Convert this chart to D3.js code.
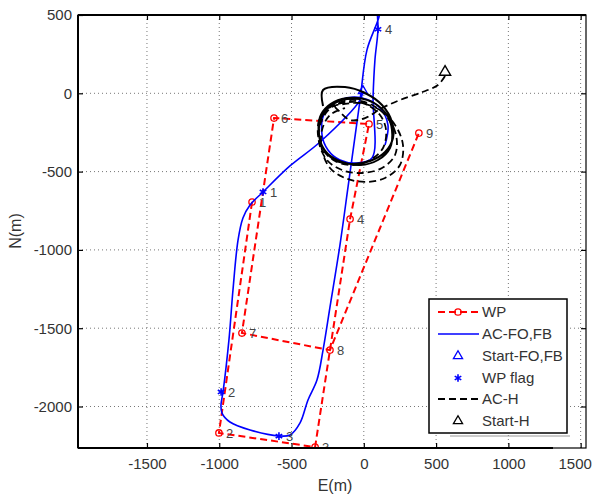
<!DOCTYPE html>
<html>
<head>
<meta charset="utf-8">
<script src="https://cdn.jsdelivr.net/npm/d3@7"></script>
<style>
  body { margin: 0; background: #fff; }
  text { font-family: "Liberation Sans", Arial, sans-serif; }
</style>
</head>
<body>
<div id="chart"></div>
<script>
// waypoints (red, dashed)
var wpE = [-773, -1002, -337, -95, 36, -621, -843, -234, 381];
var wpN = [-694, -2169, -2259, -803, -196, -158, -1531, -1640, -254];
var wpLabels = ["1", "2", "3", "4", "5", "6", "7", "8", "9"];

// waypoint switch flags (blue asterisks)
var flagE = [-697, -987, -587, 98];
var flagN = [-630, -1907, -2189, 409];
var flagLabels = ["1", "2", "3", "4"];

// start points
var startFO = [-6, 15];
var startH = [562, 136];

// aircraft path, FO/FB controller
var acE = [-6, -26, -303, -511, -697, -787, -836, -870, -905, -933, -974, -988, -981, -926, -787, -587, -510, -441, -386, -324, -282, -234, -165, -109, -26, 22, 105, 133, 119, 91, 98, 77, 64, 57, -47, -165, -248, -289, -268, -165, -12, 112, 167, 147];
var acN = [15, -43, -311, -464, -630, -713, -796, -937, -1256, -1576, -1908, -1991, -2042, -2099, -2150, -2188, -2182, -2105, -1958, -1831, -1640, -1365, -969, -598, -43, 277, 487, 628, 692, 647, 409, 213, -24, -413, -445, -426, -362, -266, -119, -43, -30, -94, -202, -330];

// aircraft path, H controller (dashed)
var hE = [562, 513, 389, 250, 126, 8, -95, -165, -199, -109, 8, 112, 154, 133, 43, -82, -199, -282, -317, -303, -220, -95, 43, 154, 223, 216, 126, -12, -151, -255, -310, -296, -220, -130, -26, 112, 216, 271, 250, 147, 8, -130, -234, -289, -289, -234, -130];
var hN = [110, 53, 2, -43, -94, -158, -171, -119, -81, -56, -68, -139, -234, -349, -426, -458, -432, -362, -266, -158, -81, -43, -68, -145, -266, -394, -477, -509, -490, -426, -311, -183, -87, -68, -62, -107, -202, -330, -458, -541, -566, -541, -477, -362, -234, -139, -94];

// settled loop (solid black)
var loopE = [-282, -282, -130, 8, 126, 195, 202, 147, 43, -82, -199, -276, -310, -303, -248, -151, -40, 71, 160, 195, 181, 98, -26, -151, -248, -303, -303, -248, -151, -26];
var loopN = [-81, 21, 40, 2, -75, -183, -285, -375, -432, -451, -426, -362, -266, -152, -81, -36, -30, -62, -139, -234, -349, -426, -458, -438, -388, -298, -183, -94, -43, -36];

var xTicks = [-1500, -1000, -500, 0, 500, 1000, 1500];
var yTicks = [-2000, -1500, -1000, -500, 0, 500];

var width = 592, height = 494;
var pLeft = 78, pRight = 586, pTop = 15, pBottom = 448;

var svg = d3.select("#chart").append("svg")
  .attr("width", width)
  .attr("height", height);

var X = d3.scaleLinear().domain([-1977, 1537]).range([pLeft, pRight]);
var Y = d3.scaleLinear().domain([-2265, 500]).range([pBottom, pTop]);

// grid
var grid = svg.append("g").attr("stroke", "#777").attr("stroke-width", 1)
  .attr("stroke-dasharray", "1,3");
xTicks.forEach(function(t) {
  grid.append("line").attr("x1", X(t)).attr("x2", X(t)).attr("y1", pTop).attr("y2", pBottom);
});
yTicks.forEach(function(t) {
  if (t === 500) return;
  grid.append("line").attr("x1", pLeft).attr("x2", pRight).attr("y1", Y(t)).attr("y2", Y(t));
});

// axes
var fmt = function(d) { return String(d); };
var xAxis = d3.axisBottom(X).tickValues(xTicks).tickFormat(fmt).tickSizeInner(-5).tickSizeOuter(0).tickPadding(10);
var yAxis = d3.axisLeft(Y).tickValues(yTicks).tickFormat(fmt).tickSizeInner(-5).tickSizeOuter(0).tickPadding(6);
var xTop = d3.axisTop(X).tickValues(xTicks).tickSizeInner(-5).tickSizeOuter(0).tickFormat("");
var yRight = d3.axisRight(Y).tickValues(yTicks).tickSizeInner(-5).tickSizeOuter(0).tickFormat("");

function styleAxis(g) {
  g.select(".domain").remove();
  g.selectAll(".tick line").attr("stroke", "#000").attr("stroke-width", 1.2);
  g.selectAll(".tick text").attr("fill", "#333").style("font-size", "15px")
    .style("font-family", "'Liberation Sans', Arial, sans-serif");
}
var gx = svg.append("g").attr("transform", "translate(0," + pBottom + ")").call(xAxis).call(styleAxis);
gx.selectAll(".tick text").filter(function(d) { return d === 1500; }).attr("dx", -6);
svg.append("g").attr("transform", "translate(" + pLeft + ",0)").call(yAxis).call(styleAxis);
svg.append("g").attr("transform", "translate(0," + pTop + ")").call(xTop).call(styleAxis);
svg.append("g").attr("transform", "translate(" + pRight + ",0)").call(yRight).call(styleAxis);

svg.append("clipPath").attr("id", "plotclip").append("rect")
  .attr("x", pLeft).attr("y", pTop).attr("width", pRight - pLeft).attr("height", pBottom - pTop);

var plot = svg.append("g").attr("clip-path", "url(#plotclip)");

function pts(es, ns) {
  return es.map(function(e, i) { return [e, ns[i]]; });
}
var line = d3.line()
  .x(function(d) { return X(d[0]); })
  .y(function(d) { return Y(d[1]); });
var smooth = d3.line()
  .x(function(d) { return X(d[0]); })
  .y(function(d) { return Y(d[1]); })
  .curve(d3.curveCatmullRom.alpha(0.5));

// WP route
plot.append("path").datum(pts(wpE, wpN)).attr("d", line)
  .attr("fill", "none").attr("stroke", "#ff0000").attr("stroke-width", 2)
  .attr("stroke-dasharray", "7,4");
plot.selectAll("circle.wp").data(pts(wpE, wpN)).enter().append("circle")
  .attr("class", "wp")
  .attr("cx", function(d) { return X(d[0]); })
  .attr("cy", function(d) { return Y(d[1]); })
  .attr("r", 3.2).attr("fill", "none").attr("stroke", "#ff0000").attr("stroke-width", 1.3);

// AC-FO,FB
plot.append("path").datum(pts(acE, acN)).attr("d", smooth)
  .attr("fill", "none").attr("stroke", "#0000ff").attr("stroke-width", 1.6);

plot.append("path")
  .attr("d", d3.symbol().type(d3.symbolTriangle2).size(60))
  .attr("transform", "translate(" + X(startFO[0]) + "," + Y(startFO[1]) + ")")
  .attr("fill", "none").attr("stroke", "#0000ff").attr("stroke-width", 1.3);

plot.selectAll("path.flag").data(pts(flagE, flagN)).enter().append("path")
  .attr("class", "flag")
  .attr("d", d3.symbol().type(d3.symbolAsterisk).size(40))
  .attr("transform", function(d) { return "translate(" + X(d[0]) + "," + Y(d[1]) + ")"; })
  .attr("fill", "none").attr("stroke", "#0000ff").attr("stroke-width", 1.6);

// AC-H
plot.append("path").datum(pts(loopE, loopN)).attr("d", smooth)
  .attr("fill", "none").attr("stroke", "#000").attr("stroke-width", 2);
plot.append("path").datum(pts(hE, hN)).attr("d", smooth)
  .attr("fill", "none").attr("stroke", "#000").attr("stroke-width", 1.8)
  .attr("stroke-dasharray", "7,4");

plot.append("path")
  .attr("d", d3.symbol().type(d3.symbolTriangle2).size(90))
  .attr("transform", "translate(" + X(startH[0]) + "," + Y(startH[1]) + ")")
  .attr("fill", "none").attr("stroke", "#000").attr("stroke-width", 1.4);

// point labels
plot.selectAll("text.wpl").data(pts(wpE, wpN)).enter().append("text")
  .attr("x", function(d) { return X(d[0]) + 7; })
  .attr("y", function(d) { return Y(d[1]) + 5; })
  .attr("fill", "#444").style("font-size", "13px")
  .text(function(d, i) { return wpLabels[i]; });
plot.selectAll("text.fl").data(pts(flagE, flagN)).enter().append("text")
  .attr("x", function(d) { return X(d[0]) + 7; })
  .attr("y", function(d) { return Y(d[1]) + 5; })
  .attr("fill", "#444").style("font-size", "13px")
  .text(function(d, i) { return flagLabels[i]; });

// frame
svg.append("rect").attr("x", pLeft).attr("y", pTop)
  .attr("width", pRight - pLeft).attr("height", pBottom - pTop)
  .attr("fill", "none").attr("stroke", "#000").attr("stroke-width", 1.2);
svg.append("line").attr("x1", pLeft).attr("x2", pLeft).attr("y1", pTop).attr("y2", pBottom)
  .attr("stroke", "#000").attr("stroke-width", 2);
svg.append("line").attr("x1", pLeft).attr("x2", 553).attr("y1", pBottom).attr("y2", pBottom)
  .attr("stroke", "#000").attr("stroke-width", 2);
svg.append("line").attr("x1", pLeft).attr("x2", pRight).attr("y1", pTop).attr("y2", pTop)
  .attr("stroke", "#000").attr("stroke-width", 1.8);

// axis titles
svg.append("text").attr("x", 335).attr("y", 491).attr("text-anchor", "middle")
  .attr("fill", "#333").style("font-size", "16px").text("E(m)");
svg.append("text").attr("transform", "translate(21,231)rotate(-90)").attr("text-anchor", "middle")
  .attr("fill", "#333").style("font-size", "16px").text("N(m)");

// legend
var legend = svg.append("g");
legend.append("line").attr("x1", 450).attr("x2", 570).attr("y1", 436).attr("y2", 436)
  .attr("stroke", "#999").attr("stroke-width", 1);
legend.append("rect").attr("x", 429).attr("y", 299).attr("width", 138).attr("height", 134)
  .attr("fill", "#fff").attr("stroke", "#000").attr("stroke-width", 1.5);

var legNames = ["WP", "AC-FO,FB", "Start-FO,FB", "WP flag", "AC-H", "Start-H"];
var legY = [312, 334, 356, 378, 399, 421];
var lx1 = 438, lx2 = 479, lxm = 458;

legend.append("line").attr("x1", lx1).attr("x2", lx2).attr("y1", legY[0]).attr("y2", legY[0])
  .attr("stroke", "#ff0000").attr("stroke-width", 2).attr("stroke-dasharray", "7,4");
legend.append("circle").attr("cx", lxm).attr("cy", legY[0]).attr("r", 3.2)
  .attr("fill", "none").attr("stroke", "#ff0000").attr("stroke-width", 1.3);
legend.append("line").attr("x1", lx1).attr("x2", lx2).attr("y1", legY[1]).attr("y2", legY[1])
  .attr("stroke", "#0000ff").attr("stroke-width", 1.6);
legend.append("path").attr("d", d3.symbol().type(d3.symbolTriangle2).size(60))
  .attr("transform", "translate(" + lxm + "," + legY[2] + ")")
  .attr("fill", "none").attr("stroke", "#0000ff").attr("stroke-width", 1.3);
legend.append("path").attr("d", d3.symbol().type(d3.symbolAsterisk).size(40))
  .attr("transform", "translate(" + lxm + "," + legY[3] + ")")
  .attr("fill", "none").attr("stroke", "#0000ff").attr("stroke-width", 1.6);
legend.append("line").attr("x1", lx1).attr("x2", lx2).attr("y1", legY[4]).attr("y2", legY[4])
  .attr("stroke", "#000").attr("stroke-width", 1.8).attr("stroke-dasharray", "7,4");
legend.append("path").attr("d", d3.symbol().type(d3.symbolTriangle2).size(60))
  .attr("transform", "translate(" + lxm + "," + legY[5] + ")")
  .attr("fill", "none").attr("stroke", "#000").attr("stroke-width", 1.3);

legend.selectAll("text.lg").data(legNames).enter().append("text")
  .attr("x", 482)
  .attr("y", function(d, i) { return legY[i] + 5; })
  .attr("fill", "#333").style("font-size", "15px")
  .text(function(d) { return d; });
</script>
</body>
</html>
